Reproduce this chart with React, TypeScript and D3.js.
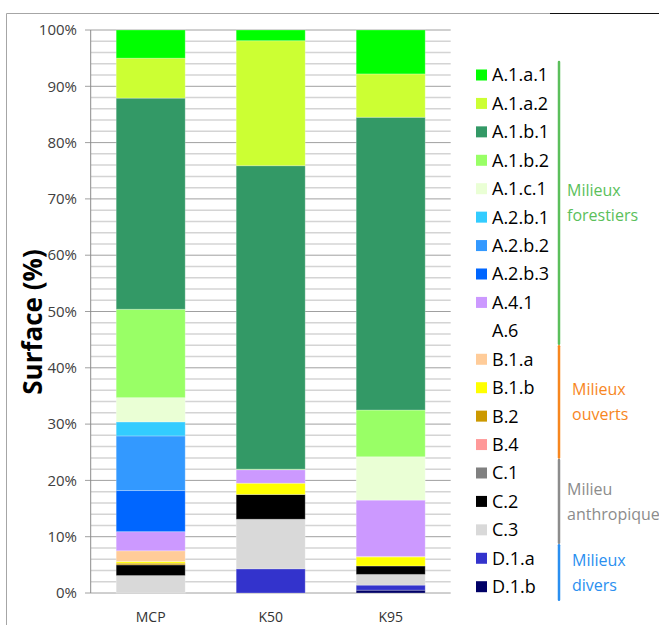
import React from 'react';
import * as d3 from 'd3';

const categories = ['MCP', 'K50', 'K95'];

const seriesKeys = [
    'A.1.a.1', 'A.1.a.2', 'A.1.b.1', 'A.1.b.2', 'A.1.c.1', 'A.2.b.1', 'A.2.b.2', 'A.2.b.3', 'A.4.1', 'A.6',
    'B.1.a', 'B.1.b', 'B.2', 'B.4', 'C.1', 'C.2', 'C.3', 'D.1.a', 'D.1.b',
];

// valeurs en % pour MCP, K50, K95
const A_1_a_1 = [5.0, 1.9, 7.8];
const A_1_a_2 = [7.1, 22.2, 7.7];
const A_1_b_1 = [37.5, 53.9, 52.0];
const A_1_b_2 = [15.7, 0.1, 8.3];
const A_1_c_1 = [4.3, 0, 7.7];
const A_2_b_1 = [2.5, 0, 0];
const A_2_b_2 = [9.7, 0, 0];
const A_2_b_3 = [7.3, 0, 0];
const A_4_1 = [3.4, 2.4, 10.0];
const A_6 = [0, 0, 0];
const B_1_a = [1.9, 0, 0.1];
const B_1_b = [0.3, 2.0, 1.6];
const B_2 = [0.3, 0, 0];
const B_4 = [0, 0, 0];
const C_1 = [0, 0, 0];
const C_2 = [1.9, 4.4, 1.5];
const C_3 = [3.1, 8.8, 1.9];
const D_1_a = [0, 4.3, 0.9];
const D_1_b = [0, 0, 0.5];

const seriesValues = [
    A_1_a_1, A_1_a_2, A_1_b_1, A_1_b_2, A_1_c_1, A_2_b_1, A_2_b_2, A_2_b_3, A_4_1, A_6,
    B_1_a, B_1_b, B_2, B_4, C_1, C_2, C_3, D_1_a, D_1_b,
];

const seriesColors = [
    '#00FF00', '#CCFF33', '#339966', '#99FF66', '#EAFFD5', '#33CCFF', '#3399FF', '#0066FF', '#CC99FF', 'none',
    '#FFCC99', '#FFFF00', '#CC9900', '#FF9999', '#808080', '#000000', '#D9D9D9', '#3333CC', '#000066',
];

const yTicks = [0, 10, 20, 30, 40, 50, 60, 70, 80, 90, 100];

const groups = [
    {lines: ['Milieux', 'forestiers'], color: '#5BBF5B', from: 0, to: 9, textX: 567},
    {lines: ['Milieux', 'ouverts'], color: '#F7861E', from: 10, to: 13, textX: 572},
    {lines: ['Milieu', 'anthropiques'], color: '#8C8C8C', from: 14, to: 16, textX: 567},
    {lines: ['Milieux', 'divers'], color: '#2A8FF0', from: 17, to: 18, textX: 572},
];

const W = 659;
const H = 625;
const FONT = '"Open Sans", "DejaVu Sans", sans-serif';

export default function App() {
    const x = d3.scaleBand<string>()
        .domain(categories)
        .range([90.7, 450.7])
        .paddingInner(0.425)
        .paddingOuter(0.2125);

    const y = d3.scaleLinear().domain([0, 100]).range([593, 30]);

    const rows = categories.map((c, i) => {
        const r: Record<string, number | string> = {cat: c};
        seriesKeys.forEach((k, j) => { r[k] = seriesValues[j][i]; });
        return r;
    });

    // empilement : le dernier de la légende en bas
    const stacked = d3.stack<any>().keys([...seriesKeys].reverse())(rows);

    const minor = d3.range(2, 100, 2).filter(v => v % 10 !== 0);

    const legendY = d3.scaleLinear().domain([0, seriesKeys.length - 1]).range([75, 586.7]);

    return (
        <svg width={W} height={H} style={{position: 'absolute', left: 0, top: 0, display: 'block'}}
             fontFamily={FONT}>
            <rect width={W} height={H} fill="#fff"/>

            {/* cadre */}
            <line x1={6.5} x2={6.5} y1={13.5} y2={H} stroke="#A6A6A6"/>
            <line x1={6.5} x2={550} y1={13.5} y2={13.5} stroke="#A6A6A6"/>
            <line x1={550} x2={W} y1={13.5} y2={13.5} stroke="#111"/>

            {/* grille */}
            {minor.map(v => (
                <line key={'m' + v} x1={91} x2={450.7} y1={y(v)} y2={y(v)} stroke="#D4D4D4" strokeWidth={1.5}/>
            ))}
            {yTicks.map(v => (
                <g key={'t' + v}>
                    <line x1={85} x2={450.7} y1={y(v)} y2={y(v)} stroke="#A0A0A0" strokeWidth={1}/>
                    <text x={77} y={y(v)} dy="0.35em" textAnchor="end" fontSize={15} fill="#404040">{v}%</text>
                </g>
            ))}
            <line x1={90.7} x2={90.7} y1={30} y2={593} stroke="#8C8C8C"/>

            {/* barres */}
            {stacked.map(s => {
                const idx = seriesKeys.indexOf(s.key);
                const color = seriesColors[idx];
                if (color === 'none') return null;
                return (
                    <g key={s.key} fill={color}>
                        {s.map((d, i) => {
                            const h = y(d[0]) - y(d[1]);
                            if (h <= 0) return null;
                            return (
                                <rect key={i} x={x(categories[i])} y={y(d[1])} width={x.bandwidth()} height={h}
                                      stroke="#fff" strokeOpacity={0.25} strokeWidth={1}/>
                            );
                        })}
                    </g>
                );
            })}

            {/* étiquettes x */}
            {categories.map(c => (
                <text key={c} x={(x(c) as number) + x.bandwidth() / 2} y={622} textAnchor="middle" fontSize={14}
                      fill="#333">{c}</text>
            ))}

            {/* titre axe y */}
            <text transform="translate(35,322) rotate(-90)" textAnchor="middle" dominantBaseline="middle"
                  fontSize={26} fontWeight="bold" fill="#000">Surface (%)</text>

            {/* légende */}
            {seriesKeys.map((k, i) => (
                <g key={k} transform={`translate(0,${legendY(i)})`}>
                    {seriesColors[i] !== 'none' && (
                        <rect x={476} y={-5.5} width={11} height={11} fill={seriesColors[i]}/>
                    )}
                    <text x={492} y={0} dy="0.36em" fontSize={18} fill="#000">{k}</text>
                </g>
            ))}

            {/* groupes */}
            {groups.map(g => {
                const y0 = legendY(g.from) - 13;
                const y1 = legendY(g.to) + 13;
                const mid = (y0 + y1) / 2;
                return (
                    <g key={g.lines.join(' ')}>
                        <line x1={559} x2={559} y1={y0} y2={y1} stroke={g.color} strokeWidth={2.5}
                              strokeLinecap="round"/>
                        {g.lines.map((t, j) => (
                            <text key={t} x={g.textX} y={mid + (j - 0.5) * 25} dy="0.35em" fontSize={16}
                                  fill={g.color}>{t}</text>
                        ))}
                    </g>
                );
            })}
        </svg>
    );
}
